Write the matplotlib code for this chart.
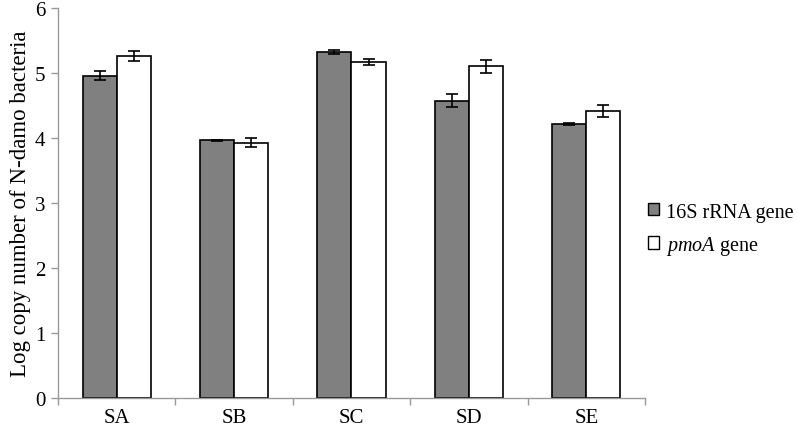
import matplotlib
matplotlib.use("Agg")
import matplotlib.pyplot as plt
import numpy as np
from matplotlib.patches import Patch

plt.rcParams['font.family'] = ['Liberation Serif', 'DejaVu Serif']
plt.rcParams['mathtext.fontset'] = 'custom'
plt.rcParams['mathtext.rm'] = 'Liberation Serif'
plt.rcParams['mathtext.it'] = 'Liberation Serif:italic'

sites = ["SA", "SB", "SC", "SD", "SE"]
rrna = [4.96, 3.97, 5.33, 4.58, 4.22]
rrna_err = [0.07, 0.01, 0.035, 0.10, 0.01]
pmoa = [5.27, 3.93, 5.18, 5.11, 4.42]
pmoa_err = [0.077, 0.07, 0.045, 0.10, 0.087]
series_labels = ["16S rRNA gene", "$\\it{pmoA}$ gene"]

fig = plt.figure(figsize=(7.98, 4.27), dpi=100)
ax = fig.add_axes([0.0727, 0.0656, 0.7355, 0.9124])

x = np.arange(len(sites))
w = 0.29
ek = dict(ecolor='black', elinewidth=1.2, capsize=4, capthick=1.2)
ax.bar(x - w/2, rrna, w, yerr=rrna_err, color='#808080', edgecolor='black', linewidth=1.2, error_kw=ek)
ax.bar(x + w/2, pmoa, w, yerr=pmoa_err, color='white', edgecolor='black', linewidth=1.2, error_kw=ek)

ax.set_xlim(-0.5, len(sites) - 0.5)
ax.set_ylim(0, 6)
ax.set_yticks(range(0, 7))
ax.set_xticks(x)
ax.set_xticklabels(sites)
ax.set_xticks(np.arange(-0.5, len(sites)), minor=True)
ax.tick_params(axis='x', which='major', length=0, labelsize=15, pad=7)
ax.tick_params(axis='x', which='minor', length=5, color='#999999', width=1)
ax.tick_params(axis='y', length=5, color='#999999', width=1, labelsize=15, pad=4)
for s in ['top', 'right']:
    ax.spines[s].set_visible(False)
for s in ['left', 'bottom']:
    ax.spines[s].set_color('#999999')
    ax.spines[s].set_linewidth(1)
ax.set_ylabel("Log copy number of N-damo bacteria", fontsize=16.5, labelpad=3)

handles = [Patch(facecolor='#808080', edgecolor='black'), Patch(facecolor='white', edgecolor='black')]
fig.legend(handles, series_labels, loc='center left', bbox_to_anchor=(0.812, 0.46),
           frameon=False, fontsize=14.5, handlelength=0.55, handleheight=0.55, handletextpad=0.35,
           labelspacing=0.6, borderpad=0, borderaxespad=0)

fig.savefig("out.png", dpi=100)
